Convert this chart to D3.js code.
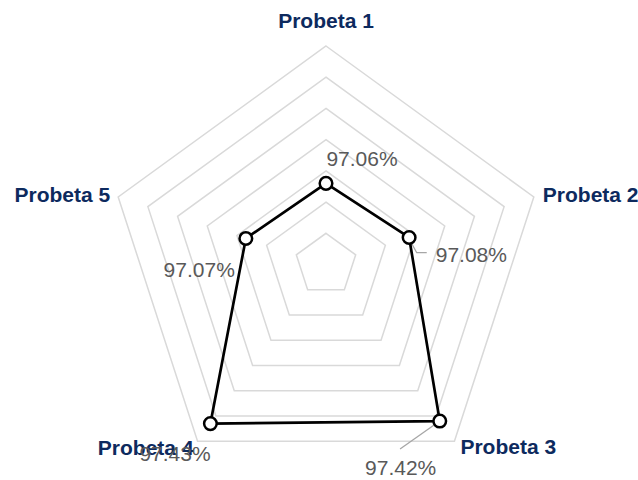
<!DOCTYPE html>
<html>
<head>
<meta charset="utf-8">
<script src="https://cdn.jsdelivr.net/npm/d3@7"></script>
<style>
  body { margin: 0; background: #fff; }
  svg text { font-family: "Liberation Sans", Arial, sans-serif; }
</style>
</head>
<body>
<svg id="chart" width="638" height="480"></svg>
<script>
// data
var categories = ["Probeta 1", "Probeta 2", "Probeta 3", "Probeta 4", "Probeta 5"];
var values = [97.06, 97.08, 97.42, 97.43, 97.07];
var ringTicks = [96.9, 97.0, 97.1, 97.2, 97.3, 97.4, 97.5];

var svg = d3.select("#chart");
var cx = 326, cy = 264.5, outerR = 218.5;

var rScale = d3.scaleLinear().domain([96.8, 97.5]).range([0, outerR]);
var angle = d3.scaleLinear().domain([0, categories.length]).range([0, 2 * Math.PI]);

function pt(i, r) {
    var a = angle(i);
    return [cx + r * Math.sin(a), cy - r * Math.cos(a)];
}

var g = svg.append("g");

// grid rings
var ringLine = d3.line().curve(d3.curveLinearClosed);
g.selectAll(".ring")
    .data(ringTicks)
    .enter().append("path")
    .attr("class", "ring")
    .attr("fill", "none")
    .attr("stroke", "#d9d9d9")
    .attr("stroke-width", 1.5)
    .attr("d", function (t) {
        return ringLine(categories.map(function (c, i) { return pt(i, rScale(t)); }));
    });

// category labels
var catPos = [
    { dx: 0, dy: -18, anchor: "middle" },
    { dx: 9, dy: 5, anchor: "start" },
    { dx: 6, dy: 13, anchor: "start" },
    { dx: -4, dy: 14, anchor: "end" },
    { dx: -8, dy: 5, anchor: "end" }
];
g.selectAll(".cat")
    .data(categories)
    .enter().append("text")
    .attr("class", "cat")
    .attr("x", function (d, i) { return pt(i, outerR)[0] + catPos[i].dx; })
    .attr("y", function (d, i) { return pt(i, outerR)[1] + catPos[i].dy; })
    .attr("text-anchor", function (d, i) { return catPos[i].anchor; })
    .attr("font-size", 21)
    .attr("font-weight", "bold")
    .attr("fill", "#0d2a5e")
    .text(function (d) { return d; });

var points = values.map(function (v, i) { return pt(i, rScale(v)); });

// leader lines
var leaders = [
    null,
    [[1.6, 4.2], [7.6, 15.2], [17.6, 15.2]],
    [[0, 0], [-39.7, 28]],
    null,
    null
];
leaders.forEach(function (l, i) {
    if (!l) { return; }
    g.append("path")
        .attr("fill", "none")
        .attr("stroke", "#a6a6a6")
        .attr("stroke-width", 1.3)
        .attr("d", d3.line()(l.map(function (p) { return [points[i][0] + p[0], points[i][1] + p[1]]; })));
});

// series line
g.append("path")
    .datum(points)
    .attr("fill", "none")
    .attr("stroke", "#000")
    .attr("stroke-width", 2.7)
    .attr("stroke-linejoin", "round")
    .attr("d", ringLine);

g.selectAll(".marker")
    .data(points)
    .enter().append("circle")
    .attr("class", "marker")
    .attr("cx", function (d) { return d[0]; })
    .attr("cy", function (d) { return d[1]; })
    .attr("r", 6.3)
    .attr("fill", "#fff")
    .attr("stroke", "#000")
    .attr("stroke-width", 2.5);

// data labels
var labelPos = [
    { dx: 36, dy: -17, anchor: "middle" },
    { dx: 26.6, dy: 24.2, anchor: "start" },
    { dx: -74.7, dy: 54, anchor: "start" },
    { dx: -71, dy: 37.5, anchor: "start" },
    { dx: -11, dy: 38.8, anchor: "end" }
];
g.selectAll(".val")
    .data(values)
    .enter().append("text")
    .attr("class", "val")
    .attr("x", function (d, i) { return points[i][0] + labelPos[i].dx; })
    .attr("y", function (d, i) { return points[i][1] + labelPos[i].dy; })
    .attr("text-anchor", function (d, i) { return labelPos[i].anchor; })
    .attr("font-size", 21)
    .attr("fill", "#595959")
    .text(function (d) { return d.toFixed(2) + "%"; });
</script>
</body>
</html>
